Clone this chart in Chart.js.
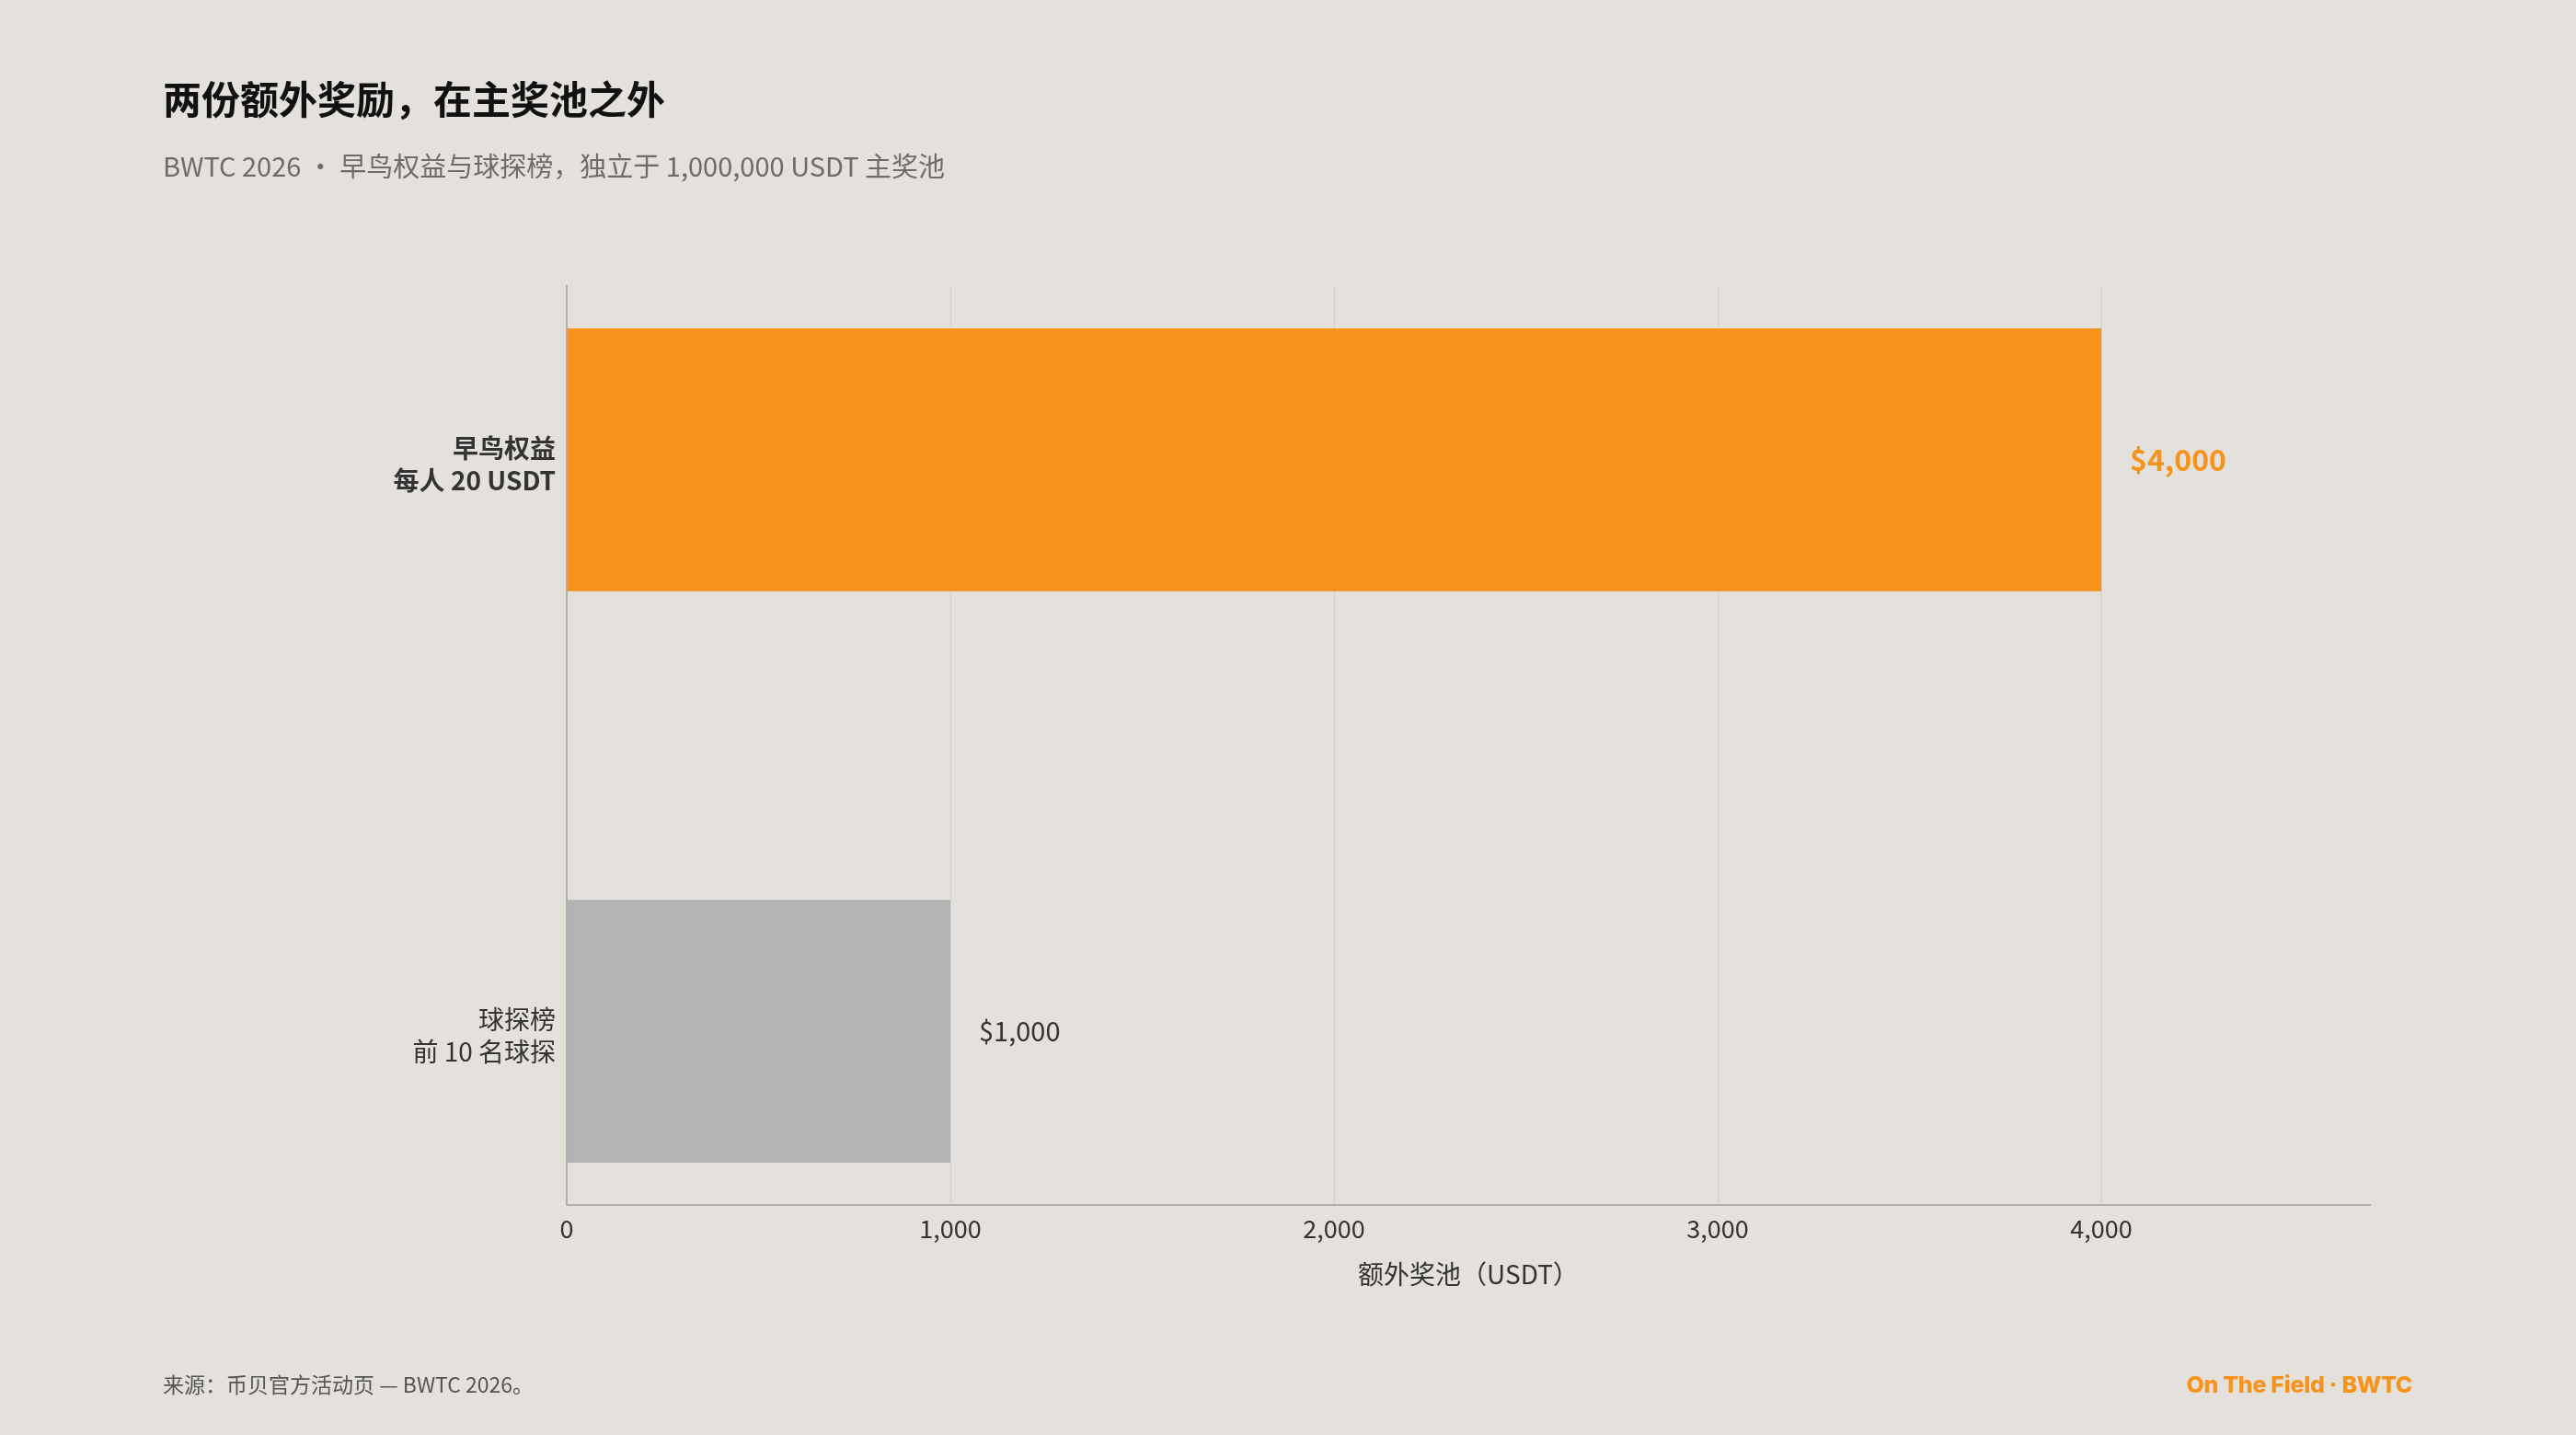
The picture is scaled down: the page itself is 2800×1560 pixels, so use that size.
<!DOCTYPE html>
<html>
<head>
<meta charset="utf-8">
<script src="https://cdn.jsdelivr.net/npm/chart.js@4.4.1/dist/chart.umd.min.js"></script>
<style>
  html, body { margin: 0; padding: 0; background: #E4E0DB; }
  body { width: 2800px; height: 1560px; position: relative; overflow: hidden;
         font-family: 'Noto Sans CJK SC', 'Noto Sans', sans-serif; }
  #wrap { position: absolute; left: 0; top: 0; width: 2800px; height: 1560px; }
  .title { position: absolute; left: 177px; top: 77px; font-size: 42px; font-weight: 700; color: #111; line-height: 58px; }
  .subtitle { position: absolute; left: 177px; top: 159px; font-size: 29px; color: #6e6b68; line-height: 40px; }
  .source { position: absolute; left: 177px; top: 1488px; font-size: 23px; color: #555; line-height: 32px; }
  .brand { position: absolute; right: 178px; top: 1487px; font-size: 25px; font-weight: 800; color: #F7931A;
           font-family: 'Inter', 'Lato', sans-serif; line-height: 36px; letter-spacing: -0.3px; }
</style>
</head>
<body>
<div id="wrap"><canvas id="c" width="2800" height="1560"></canvas></div>
<div class="title">两份额外奖励，在主奖池之外</div>
<div class="subtitle">BWTC 2026 · 早鸟权益与球探榜，独立于 1,000,000 USDT 主奖池</div>
<div class="source">来源：币贝官方活动页 — BWTC 2026。</div>
<div class="brand">On The Field · BWTC</div>
<script>
// ---- data ----
const categories = ['早鸟权益\n每人 20 USDT', '球探榜\n前 10 名球探'];
const values = [4000, 1000];
const valueLabels = ['$4,000', '$1,000'];
const xTickValues = [0, 1000, 2000, 3000, 4000];
const xAxisTitle = '额外奖池（USDT）';

// ---- styles ----
const barColors = ['#F7931A', '#B3B3B3'];
const valueLabelColors = ['#F7931A', '#333333'];
const valueLabelWeights = ['bold', 'normal'];
const valueLabelSizes = [32, 29];
const FONT = "'Noto Sans CJK SC', 'Noto Sans', sans-serif";

Chart.defaults.font.family = FONT;
Chart.defaults.color = '#333333';

const valueLabelPlugin = {
  id: 'valueLabels',
  afterDatasetsDraw(chart) {
    const ctx = chart.ctx;
    const meta = chart.getDatasetMeta(0);
    meta.data.forEach((el, i) => {
      ctx.save();
      ctx.font = `${valueLabelWeights[i]} ${valueLabelSizes[i]}px ${FONT}`;
      ctx.fillStyle = valueLabelColors[i];
      ctx.textAlign = 'left';
      ctx.textBaseline = 'middle';
      ctx.fillText(valueLabels[i], el.x + 31, el.y);
      ctx.restore();
    });
  }
};

new Chart(document.getElementById('c'), {
  type: 'bar',
  data: {
    datasets: [{
      data: values.map((v, i) => ({ x: v, y: i })),
      backgroundColor: barColors,
      borderWidth: 0,
      barPercentage: 0.46,
      categoryPercentage: 1
    }]
  },
  options: {
    indexAxis: 'y',
    responsive: false,
    animation: false,
    layout: { padding: { top: 311, right: 224, bottom: 158, left: 0 } },
    plugins: { legend: { display: false }, tooltip: { enabled: false } },
    scales: {
      x: {
        type: 'linear',
        min: 0,
        max: 4700,
        afterBuildTicks: (scale) => { scale.ticks = xTickValues.map(v => ({ value: v })); },
        afterFit: (scale) => { scale.height = 92; },
        grid: { color: 'rgba(0,0,0,0.07)', lineWidth: 1, drawTicks: false },
        border: { display: true, color: '#B0B0B0', width: 2 },
        ticks: {
          padding: 10,
          color: '#333333',
          font: { size: 27 },
          callback: (v) => v.toLocaleString('en-US')
        },
        title: {
          display: true,
          text: xAxisTitle,
          color: '#333333',
          font: { size: 28 },
          padding: { top: 0, bottom: 0 }
        }
      },
      y: {
        type: 'linear',
        reverse: true,
        offset: false,
        min: -0.304,
        max: 1.304,
        afterBuildTicks: (scale) => { scale.ticks = categories.map((_, i) => ({ value: i })); },
        afterFit: (scale) => { scale.width = 616; },
        grid: { display: false, drawTicks: false, offset: false },
        border: { display: true, color: '#B0B0B0', width: 2 },
        ticks: {
          padding: 12,
          labelOffset: 5,
          color: '#333333',
          font: (ctx) => ({ size: 28, weight: ctx.index === 0 ? 'bold' : 'normal', lineHeight: 1.25 }),
          callback: (v) => categories[v] !== undefined ? categories[v].split('\n') : ''
        }
      }
    }
  },
  plugins: [valueLabelPlugin]
});
</script>
</body>
</html>
